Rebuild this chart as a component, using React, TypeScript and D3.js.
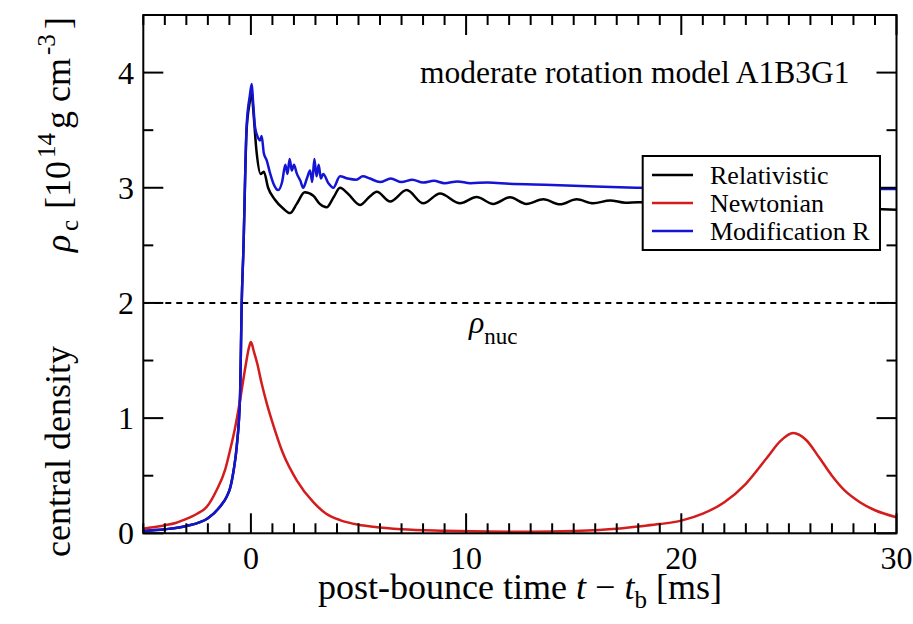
import React, { useEffect } from "react";
import * as d3 from "d3";

// ---- data ----
const newtonT = [-5, -4.4, -4, -3.5, -3.14, -2.5, -2.05, -1.59, -1.2, -0.97, -0.72, -0.5, -0.25, -0.08, 0, 0.15, 0.3, 0.5, 0.75, 1.04, 1.5, 2.13, 2.9, 3.5, 4.14, 5.0, 5.69, 7, 9, 11, 13, 15, 17, 18, 19, 20, 21, 22, 23, 24, 24.6, 25.2, 25.8, 26.4, 27, 27.6, 28.3, 29, 30];
const newtonV = [0.04, 0.057, 0.07, 0.09, 0.115, 0.17, 0.23, 0.376, 0.55, 0.72, 0.93, 1.16, 1.45, 1.62, 1.66, 1.57, 1.47, 1.3, 1.12, 0.94, 0.69, 0.46, 0.27, 0.17, 0.115, 0.075, 0.057, 0.035, 0.022, 0.015, 0.013, 0.02, 0.04, 0.06, 0.08, 0.11, 0.17, 0.27, 0.43, 0.66, 0.8, 0.87, 0.81, 0.66, 0.5, 0.37, 0.27, 0.2, 0.14];

const modT = [-5, -4, -3, -2, -1.44, -1.12, -0.97, -0.8, -0.66, -0.5, -0.43, -0.35, -0.2, -0.05, 0.04, 0.1, 0.19, 0.3, 0.42, 0.5, 0.6, 0.73, 0.9, 1.04, 1.27, 1.45, 1.6, 1.7, 1.8, 1.9, 2.0, 2.13, 2.3, 2.43, 2.6, 2.75, 2.85, 2.95, 3.05, 3.15, 3.25, 3.36, 3.6, 3.83, 4.14, 4.5, 4.9, 5.2, 5.53, 6, 6.5, 7, 7.5, 8, 8.5, 9, 9.6, 10.2, 11, 12, 14, 16, 18, 22, 26, 30];
const modV = [0.02, 0.035, 0.063, 0.13, 0.23, 0.32, 0.39, 0.55, 0.75, 1.215, 1.98, 2.45, 3.53, 3.8, 3.9, 3.75, 3.53, 3.45, 3.41, 3.45, 3.3, 3.24, 3.12, 3.04, 2.98, 3.05, 3.2, 3.12, 3.25, 3.15, 3.2, 3.125, 3.06, 3.0, 3.08, 3.15, 3.05, 3.25, 3.1, 3.2, 3.08, 3.12, 3.04, 3.0, 3.1, 3.08, 3.07, 3.1, 3.08, 3.05, 3.08, 3.05, 3.07, 3.045, 3.06, 3.04, 3.055, 3.04, 3.045, 3.035, 3.025, 3.01, 3.0, 2.99, 2.99, 2.99];

const relT = [-5, -4, -3, -2, -1.44, -1.12, -0.97, -0.8, -0.66, -0.5, -0.43, -0.35, -0.2, -0.05, 0.03, 0.1, 0.27, 0.45, 0.6, 0.8, 1.1, 1.5, 1.82, 2.13, 2.5, 2.9, 3.2, 3.52, 3.85, 4.14, 4.5, 5.07, 5.5, 5.85, 6.47, 7.24, 8.01, 8.79, 9.72, 10.49, 11.26, 12.04, 12.8, 13.59, 14.36, 15.14, 15.91, 16.69, 17.4, 18, 20, 24, 28, 30];
const relV = [0.02, 0.035, 0.063, 0.13, 0.23, 0.32, 0.39, 0.55, 0.75, 1.215, 1.98, 2.45, 3.5, 3.75, 3.85, 3.7, 3.3, 3.12, 3.14, 3.0, 2.9, 2.82, 2.78, 2.86, 2.96, 2.93, 2.86, 2.83, 2.92, 3.0, 2.95, 2.85, 2.92, 2.965, 2.88, 2.98, 2.865, 2.95, 2.865, 2.92, 2.86, 2.917, 2.86, 2.9, 2.856, 2.9, 2.865, 2.89, 2.87, 2.875, 2.87, 2.84, 2.82, 2.81];

const xTickLabels = [0, 10, 20, 30];
const yTickLabels = [0, 1, 2, 3, 4];
const nuclearDensity = 2;
const seriesNames = ["Relativistic", "Newtonian", "Modification R"];
const seriesColors = ["#000000", "#d41c1c", "#1414d4"];

const W = 913, H = 624;
const M = { left: 143.3, right: 896.5, top: 15, bottom: 533.3 };
const SERIF = "Liberation Serif";
const tf = { fontFamily: '"Liberation Serif"' };

export default function App() {
  useEffect(() => {
    document.body.style.margin = "0";
  }, []);

  const x = d3.scaleLinear().domain([-5, 30]).range([M.left, M.right]);
  const y = d3.scaleLinear().domain([0, 4.5]).range([M.bottom, M.top]);
  const line = d3
    .line<[number, number]>()
    .x((d) => x(d[0]))
    .y((d) => y(d[1]))
    .curve(d3.curveMonotoneX);

  const zip = (t: number[], v: number[]) => t.map((ti, i) => [ti, v[i]] as [number, number]);
  const rel = zip(relT, relV);
  const newt = zip(newtonT, newtonV);
  const mod = zip(modT, modV);

  const xMinor = d3.range(-5, 30.001, 1);
  const yMinor = d3.range(0, 4.5001, 0.5);
  const major = 20, minor = 10;

  const legendX = 642.7, legendY = 156, legendW = 237.3, legendH = 94;

  return (
    <svg width={W} height={H} fontFamily={SERIF} style={{ display: "block", margin: 0, ...tf }}>
      <rect x={0} y={0} width={W} height={H} fill="#fff" />
      <defs>
        <clipPath id="plot">
          <rect x={M.left} y={M.top} width={M.right - M.left} height={M.bottom - M.top} />
        </clipPath>
      </defs>

      <line x1={x(-5)} x2={x(30)} y1={y(nuclearDensity)} y2={y(nuclearDensity)} stroke="#000" strokeWidth={2} strokeDasharray="6,5" />

      <g clipPath="url(#plot)" fill="none" strokeWidth={2.5} strokeLinejoin="round">
        <path d={line(rel) || ""} stroke={seriesColors[0]} />
        <path d={line(newt) || ""} stroke={seriesColors[1]} />
        <path d={line(mod) || ""} stroke={seriesColors[2]} />
      </g>

      <g stroke="#000" strokeWidth={2}>
        {xMinor.map((t) => {
          const L = Math.abs(t % 10) < 1e-6 ? major : minor;
          return (
            <g key={"xt" + t}>
              <line x1={x(t)} x2={x(t)} y1={M.bottom} y2={M.bottom - L} />
              <line x1={x(t)} x2={x(t)} y1={M.top} y2={M.top + L} />
            </g>
          );
        })}
        {yMinor.map((v) => {
          const L = Math.abs(v % 1) < 1e-6 ? major : minor;
          return (
            <g key={"yt" + v}>
              <line x1={M.left} x2={M.left + L} y1={y(v)} y2={y(v)} />
              <line x1={M.right} x2={M.right - L} y1={y(v)} y2={y(v)} />
            </g>
          );
        })}
      </g>

      <rect x={M.left} y={M.top} width={M.right - M.left} height={M.bottom - M.top} fill="none" stroke="#000" strokeWidth={2} />

      {xTickLabels.map((t) => (
        <text key={"xl" + t} x={x(t)} y={569} textAnchor="middle" fontFamily={SERIF} style={tf} fontSize={32}>{t}</text>
      ))}
      {yTickLabels.map((v) => (
        <text key={"yl" + v} x={134} y={y(v) + 11} textAnchor="end" fontFamily={SERIF} style={tf} fontSize={32}>{v}</text>
      ))}

      <text x={520} y={599} textAnchor="middle" fontFamily={SERIF} style={tf} fontSize={36}>
        post-bounce time <tspan fontStyle="italic">t</tspan> − <tspan fontStyle="italic">t</tspan>
        <tspan fontSize={25} dy={9}>b</tspan>
        <tspan dy={-9}> [ms]</tspan>
      </text>

      <text transform="translate(70,557) rotate(-90)" fontFamily={SERIF} style={tf} fontSize={36}>
        <tspan x={0}>central density</tspan>
        <tspan x={305} fontStyle="italic">ρ</tspan>
        <tspan x={326} fontSize={25} dy={8}>c</tspan>
        <tspan x={348} dy={-8}>[10</tspan>
        <tspan x={399} fontSize={25} dy={-15}>14</tspan>
        <tspan x={428} dy={15}>g cm</tspan>
        <tspan x={502} fontSize={25} dy={-15}>-3</tspan>
        <tspan x={528} dy={15}>]</tspan>
      </text>

      <text x={420} y={83} fontFamily={SERIF} style={tf} fontSize={31.5}>moderate rotation model A1B3G1</text>

      <text x={469} y={333} fontFamily={SERIF} style={tf} fontSize={32}>
        <tspan fontStyle="italic">ρ</tspan>
        <tspan fontSize={23} dy={11}>nuc</tspan>
      </text>

      <rect x={legendX} y={legendY} width={legendW} height={legendH} fill="#fff" stroke="#000" strokeWidth={2} />
      {seriesNames.map((name, i) => {
        const cy = 175 + i * 28;
        return (
          <g key={name}>
            <line x1={652} x2={693} y1={cy} y2={cy} stroke={seriesColors[i]} strokeWidth={2.5} />
            <text x={710} y={cy + 9} fontFamily={SERIF} style={tf} fontSize={26}>{name}</text>
          </g>
        );
      })}
    </svg>
  );
}
